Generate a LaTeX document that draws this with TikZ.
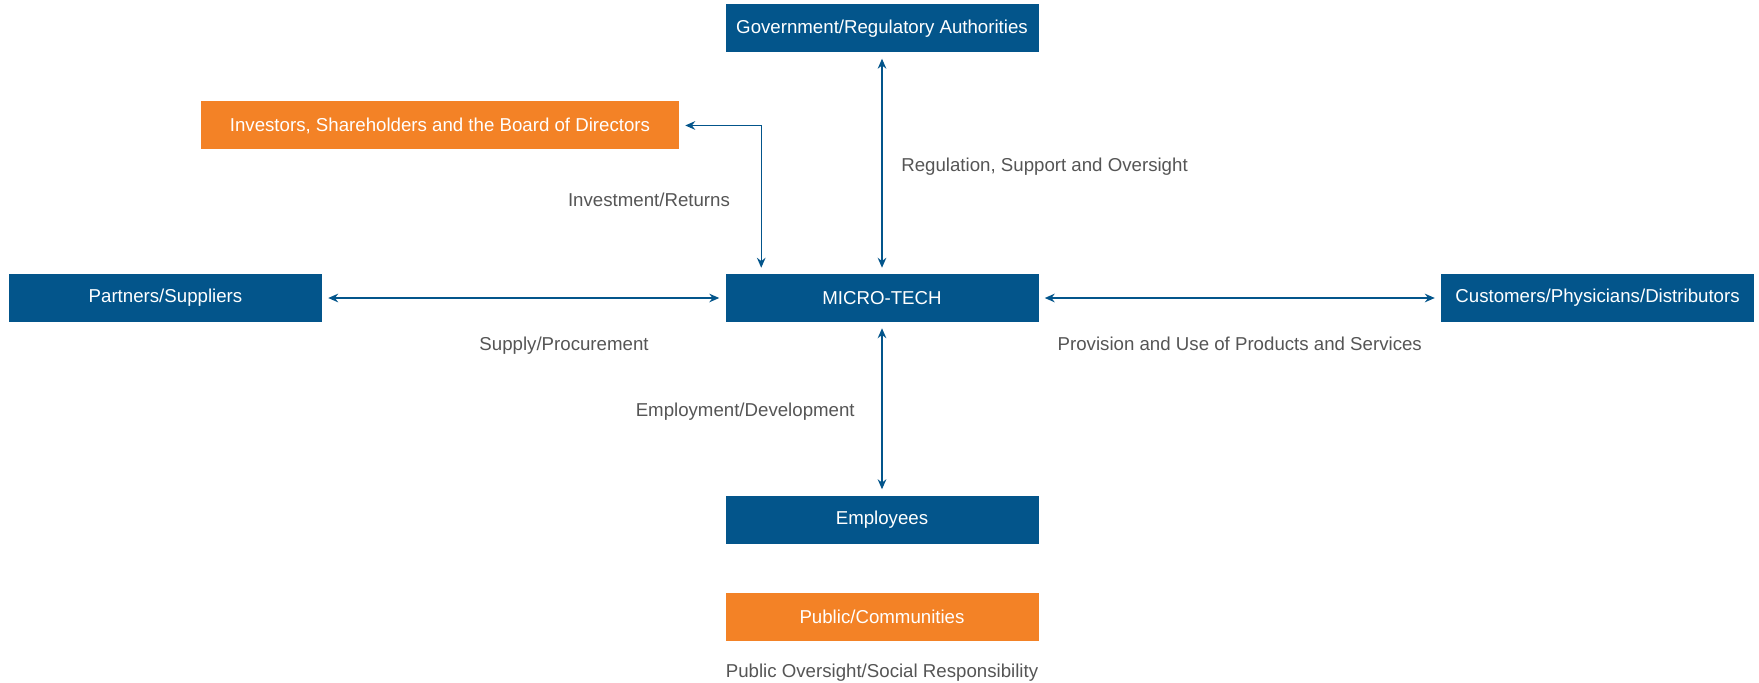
\documentclass[tikz,border=0pt]{standalone}
\usepackage{fontspec}
\setmainfont{Liberation Sans}
\usetikzlibrary{positioning,arrows.meta}
\definecolor{mtBlue}{HTML}{03558B}
\definecolor{mtOrange}{HTML}{F38226}
\definecolor{mtGray}{HTML}{555555}

\begin{document}
\begin{tikzpicture}[x=0.75pt,y=-0.75pt,every text node part/.style={align=center}]
\tikzset{myFont/.style={font=\fontsize{14}{16}\selectfont}}
\tikzset{myBox/.style={draw=none,minimum height=36pt,minimum width=234.75pt,inner sep=0pt,myFont,text=white}}
\tikzset{myBlue/.style={fill=mtBlue}}
\tikzset{myOrange/.style={fill=mtOrange}}
\tikzset{myLabel/.style={myFont,text=mtGray,inner sep=0pt}}
\tikzset{myLink/.style={draw=mtBlue,line width=1pt,{Stealth[length=7.5pt,width=6.5pt,inset=2.5pt]}-{Stealth[length=7.5pt,width=6.5pt,inset=2.5pt]},shorten >=4.5pt,shorten <=4.5pt}}

\useasboundingbox (0,0) rectangle (1759,682);

\node[myBox,myBlue] (micro) at (882,298) {MICRO-TECH};
\node[myBox,myBlue,above=165.75pt of micro] (gov) {Government/Regulatory Authorities};
\node[myBox,myOrange,minimum width=358.5pt,above left=93pt and 34.5pt of micro] (invest) {Investors, Shareholders and the Board of Directors};
\node[myBox,myBlue,left=302.25pt of micro] (partners) {Partners/Suppliers};
\node[myBox,myBlue,right=301.5pt of micro] (customers) {Customers/Physicians/Distributors};
\node[myBox,myBlue,below=129.75pt of micro] (emp) {Employees};
\node[myBox,myOrange,below=36.75pt of emp] (public) {Public/Communities};
\node[myLabel,below=17pt of public] (oversight) {Public Oversight/Social Responsibility};

\draw[myLink] (gov) -- node[myLabel,right=14pt,yshift=-2.5pt]{Regulation, Support and Oversight} (micro);
\draw[myLink] (invest.east) -| node[myLabel,pos=0.75,left=23pt]{Investment/Returns} ([xshift=27pt]micro.north west);
\draw[myLink] (partners) -- node[myLabel,pos=0.6,below=29pt]{Supply/Procurement} (micro);
\draw[myLink] (micro) -- node[myLabel,below=29pt]{Provision and Use of Products and Services} (customers);
\draw[myLink] (micro) -- node[myLabel,left=20pt,yshift=-2.5pt]{Employment/Development} (emp);

\end{tikzpicture}
\end{document}
